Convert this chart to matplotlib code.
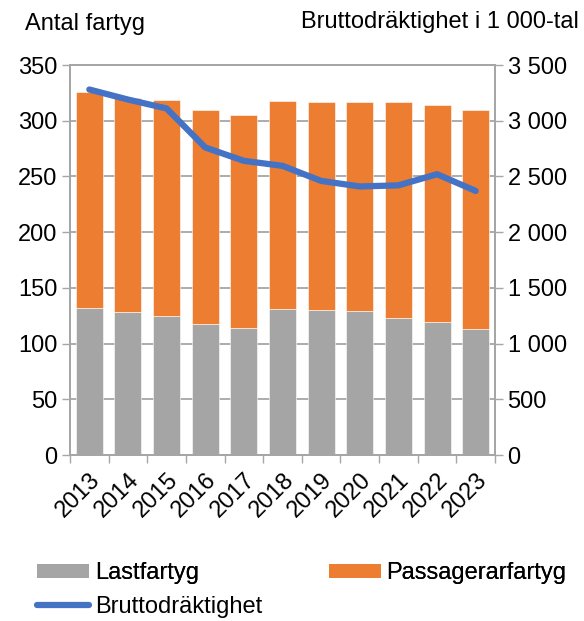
import numpy as np
import matplotlib
matplotlib.use("Agg")
import matplotlib.pyplot as plt
from matplotlib.patches import Patch
from matplotlib.lines import Line2D

years = ["2013", "2014", "2015", "2016", "2017", "2018", "2019", "2020", "2021", "2022", "2023"]
lastfartyg = [132, 128, 125, 118, 114, 131, 130, 129, 123, 119, 113]
passagerarfartyg = [194, 192, 194, 192, 191, 187, 187, 188, 194, 195, 197]
brutto = [3280, 3190, 3110, 2760, 2640, 2595, 2460, 2410, 2420, 2520, 2370]

GRAY = "#A5A5A5"
ORANGE = "#ED7D31"
BLUE = "#4472C4"
GRID = "#A6A6A6"

plt.rcParams["font.family"] = ["Liberation Sans", "DejaVu Sans"]
FS = 17

fig = plt.figure(figsize=(5.84, 6.21), dpi=100)
ax = fig.add_axes([70 / 584, 1 - 455 / 621, 425 / 584, 390 / 621])
ax2 = ax.twinx()

x = np.arange(len(years))
ax.bar(x, lastfartyg, width=0.7, color=GRAY, edgecolor="white", linewidth=0.4, zorder=2)
ax.bar(x, passagerarfartyg, width=0.7, bottom=lastfartyg, color=ORANGE,
       edgecolor="white", linewidth=0.4, zorder=2)
ax2.plot(x, brutto, color=BLUE, lw=4.5, solid_capstyle="round", solid_joinstyle="round", zorder=3)

ax.set_xlim(-0.5, len(years) - 0.5)
ax.set_ylim(0, 350)
ax2.set_ylim(0, 3500)
ax.set_yticks(range(0, 351, 50))
ax2.set_yticks(range(0, 3501, 500))
ax2.set_yticklabels([f"{v:,}".replace(",", " ") for v in range(0, 3501, 500)])
ax.yaxis.grid(True, color=GRID, lw=1.3, zorder=0)
ax.set_axisbelow(True)

ax.set_xticks(x)
ax.set_xticklabels(years, rotation=45, ha="right", rotation_mode="anchor")
ax.set_xticks(np.arange(-0.5, len(years), 1), minor=True)
ax.tick_params(axis="x", which="major", length=0, labelsize=FS, pad=10)
ax.tick_params(axis="x", which="minor", length=6, color=GRID, width=1)
ax.tick_params(axis="y", length=6, color=GRID, width=1, labelsize=FS, pad=3)
ax2.tick_params(axis="y", length=6, color=GRID, width=1, labelsize=FS, pad=3)

for a in (ax, ax2):
    for s in a.spines.values():
        s.set_color(GRID)
        s.set_linewidth(1.3)

fig.text(25 / 584, 1 - 24 / 621, "Antal fartyg", fontsize=FS, va="center", ha="left")
fig.text(579 / 584, 1 - 22 / 621, "Bruttodräktighet i 1 000-tal", fontsize=FS, va="center", ha="right")

h1 = Patch(facecolor=GRAY)
h2 = Patch(facecolor=ORANGE)
h3 = Line2D([0], [0], color=BLUE, lw=4.5, solid_capstyle="round")
leg1 = fig.legend([h1, h2], ["Lastfartyg", "Passagerarfartyg"], ncol=2, frameon=False,
                  fontsize=FS, loc="center left", bbox_to_anchor=(37 / 584, 1 - 573 / 621),
                  handlelength=2.2, handleheight=0.55, handletextpad=0.25, columnspacing=5.5,
                  borderaxespad=0, borderpad=0)
fig.add_artist(leg1)
fig.legend([h3], ["Bruttodräktighet"], frameon=False, fontsize=FS, loc="center left",
           bbox_to_anchor=(37 / 584, 1 - 607 / 621), handlelength=2.2, handletextpad=0.25,
           borderaxespad=0, borderpad=0)

fig.savefig("out.png", dpi=100)
